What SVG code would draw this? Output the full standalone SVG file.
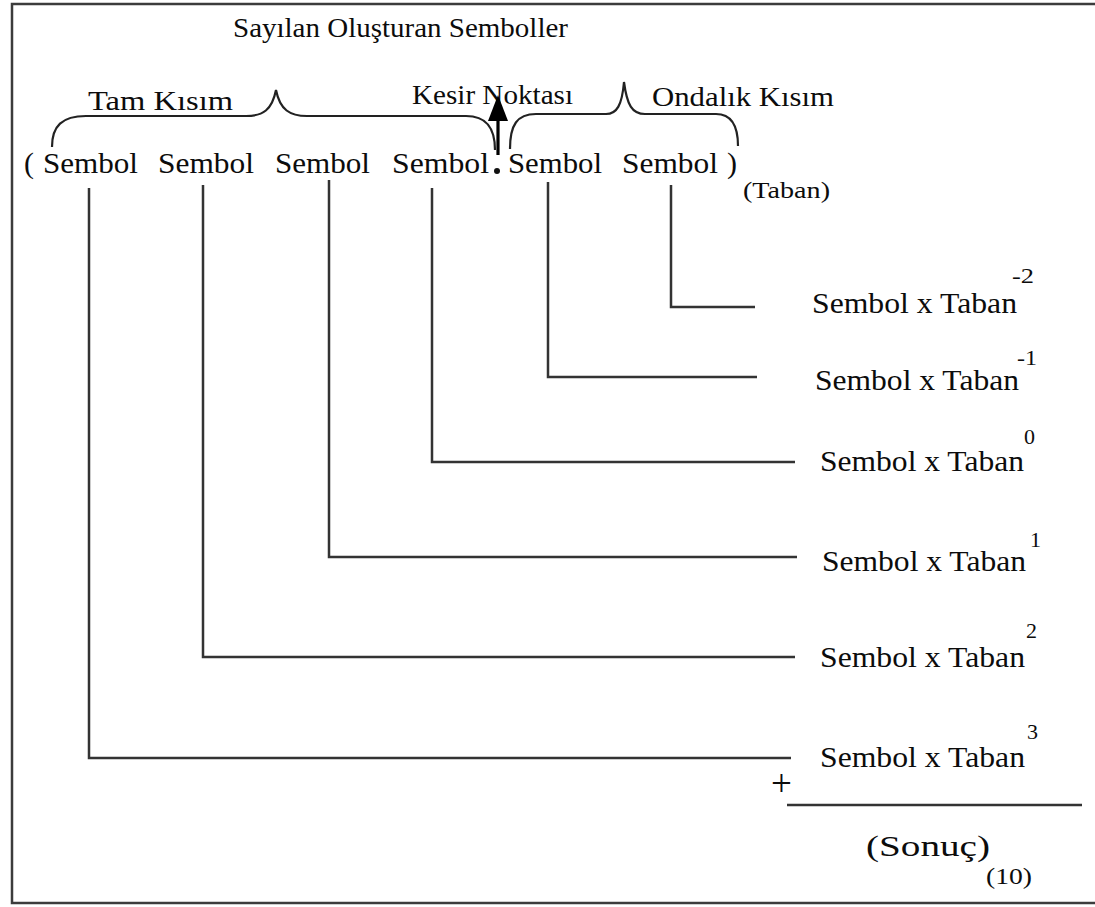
<svg xmlns="http://www.w3.org/2000/svg" width="1095" height="907" viewBox="0 0 1095 907">
<style>
text{font-family:"Liberation Serif","Times New Roman",serif;fill:#0c0c0c}
.s{font-size:29px}
.t{font-size:29px}
.sup{font-size:22px}
.lab{font-size:28px}
.ln{fill:none;stroke:#333;stroke-width:2.5}
.br{fill:none;stroke:#222;stroke-width:2.2}
</style>
<rect x="12" y="4" width="1100" height="899" fill="#fff" stroke="#3c3c3c" stroke-width="2.5"/>

<g id="title"><text class="lab" x="233" y="37" textLength="335" lengthAdjust="spacingAndGlyphs">Sayılan Oluşturan Semboller</text></g>

<g id="tam-kisim">
<path class="br" d="M52,147 C52,126 62,116 86,116 L246,116 C263,116 272,110 276,90 C280,110 290,116 307,116 L466,116 C485,116 495,126 495,150"/>
<text class="lab" x="88" y="110" textLength="145" lengthAdjust="spacingAndGlyphs">Tam Kısım</text>
</g>

<g id="kesir-noktasi">
<text class="lab" x="412" y="104" textLength="161" lengthAdjust="spacingAndGlyphs">Kesir Noktası</text>
<line x1="498" y1="155" x2="498" y2="116" stroke="#000" stroke-width="3.2"/>
<polygon points="498,95 488,121 508,121" fill="#000"/>
<circle cx="497" cy="171" r="3" fill="#111"/>
</g>

<g id="ondalik-kisim">
<path class="br" d="M510,149 C510,125 517,114 536,114 L606,114 C617,114 622,105 624,82 C627,105 632,114 645,114 L716,114 C731,114 738,125 738,146"/>
<text class="lab" x="652" y="106" textLength="182" lengthAdjust="spacingAndGlyphs">Ondalık Kısım</text>
</g>

<g id="number">
<text class="s" x="24" y="173" textLength="10" lengthAdjust="spacingAndGlyphs">(</text>
<text class="s" x="43" y="173" textLength="95" lengthAdjust="spacingAndGlyphs">Sembol</text>
<text class="s" x="158" y="173" textLength="96" lengthAdjust="spacingAndGlyphs">Sembol</text>
<text class="s" x="275" y="173" textLength="95" lengthAdjust="spacingAndGlyphs">Sembol</text>
<text class="s" x="392" y="173" textLength="97" lengthAdjust="spacingAndGlyphs">Sembol</text>
<text class="s" x="508" y="173" textLength="94" lengthAdjust="spacingAndGlyphs">Sembol</text>
<text class="s" x="622" y="173" textLength="96" lengthAdjust="spacingAndGlyphs">Sembol</text>
<text class="s" x="727" y="173" textLength="10" lengthAdjust="spacingAndGlyphs">)</text>
<text x="743" y="198" font-size="23" textLength="87" lengthAdjust="spacingAndGlyphs">(Taban)</text>
</g>

<g id="connectors">
<polyline class="ln" points="89,188 89,758 791,758"/>
<polyline class="ln" points="203,185 203,657 795,657"/>
<polyline class="ln" points="329,180 329,557 797,557"/>
<polyline class="ln" points="432,188 432,462 795,462"/>
<polyline class="ln" points="548,182 548,377 757,377"/>
<polyline class="ln" points="671,185 671,307 755,307"/>
</g>

<g id="term-m2"><text class="t" x="812" y="313" textLength="205" lengthAdjust="spacingAndGlyphs">Sembol x Taban</text><text class="sup" x="1012" y="283" textLength="22" lengthAdjust="spacingAndGlyphs">-2</text></g>
<g id="term-m1"><text class="t" x="815" y="390" textLength="204" lengthAdjust="spacingAndGlyphs">Sembol x Taban</text><text class="sup" x="1017" y="365" textLength="20" lengthAdjust="spacingAndGlyphs">-1</text></g>
<g id="term-0"><text class="t" x="820" y="471" textLength="204" lengthAdjust="spacingAndGlyphs">Sembol x Taban</text><text class="sup" x="1024" y="444">0</text></g>
<g id="term-1"><text class="t" x="822" y="571" textLength="204" lengthAdjust="spacingAndGlyphs">Sembol x Taban</text><text class="sup" x="1030" y="547">1</text></g>
<g id="term-2"><text class="t" x="820" y="667" textLength="205" lengthAdjust="spacingAndGlyphs">Sembol x Taban</text><text class="sup" x="1026" y="638">2</text></g>
<g id="term-3"><text class="t" x="820" y="767" textLength="205" lengthAdjust="spacingAndGlyphs">Sembol x Taban</text><text class="sup" x="1027" y="739">3</text></g>

<g id="sum">
<text x="771" y="796" font-size="37">+</text>
<line class="ln" x1="787" y1="805" x2="1082" y2="805"/>
<text x="866" y="856" font-size="30" textLength="124" lengthAdjust="spacingAndGlyphs">(Sonuç)</text>
<text x="986" y="884" font-size="24" textLength="46" lengthAdjust="spacingAndGlyphs">(10)</text>
</g>
</svg>
